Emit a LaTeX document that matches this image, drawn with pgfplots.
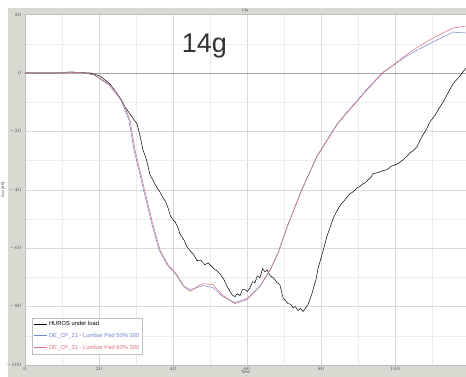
\documentclass[border=0pt]{standalone}
\usepackage{pgfplots}
\pgfplotsset{compat=1.18}
\usepackage{fontspec}
\setmainfont{Liberation Sans}
\definecolor{frame}{HTML}{D9D9D2}
\definecolor{bluel}{HTML}{6F86C8}
\definecolor{redl}{HTML}{D8707E}
\begin{document}
\begin{tikzpicture}[x=1pt,y=1pt]
\clip (0,0) rectangle (466,377);
\fill[white] (0,0) rectangle (466,377);
\fill[frame] (8,0) rectangle (466,369);
\node[font=\fontsize{4}{5}\selectfont, text=gray!70!black] at (245,366) {14g};
\begin{axis}[
  at={(25pt,12pt)}, anchor=south west,
  scale only axis, width=441pt, height=351pt,
  xmin=0, xmax=119.2, ymin=-100, ymax=20.2,
  axis background/.style={fill=white},
  axis line style={gray!50},
  xtick={0,20,40,60,80,100}, ytick={-100,-80,-60,-40,-20,0,20},
  minor xtick={10,30,50,70,90,110}, minor ytick={-90,-70,-50,-30,-10,10},
  grid=both,
  major grid style={gray!30, line width=0.5pt},
  minor grid style={gray!15, line width=0.5pt},
  tick style={draw=none},
  ticklabel style={font=\fontsize{4}{5}\selectfont, text=gray!60!black},
  xticklabel style={yshift=1pt},
  xlabel={Time}, ylabel={Sxx (dB)},
  label style={font=\fontsize{4}{5}\selectfont, text=gray!60!black},
  xlabel style={yshift=7pt},
  ylabel style={yshift=-6pt},
  legend style={at={(axis cs:1.9,-96.2)}, anchor=south west,
     font=\fontsize{5.8}{6.5}\selectfont, draw=gray!50, fill=white,
     inner sep=1.2pt, row sep=2.2pt, cells={anchor=west}},
  legend image code/.code={\draw[#1, line width=0.6pt] (0pt,0pt) -- (13pt,0pt);},
  clip=true,
]
\draw[gray!70, line width=0.6pt] (axis cs:0,0) -- (axis cs:119.2,0);
\addplot[black, line width=0.5pt] table {
x y
0 0
9.46 0
12.16 0.34
17.57 0
20.27 -1.03
22.97 -3.76
25.14 -7.52
27.03 -11.62
28.92 -15.04
30.27 -17.44
31.0 -21.0
31.89 -26.33
32.8 -29.5
33.78 -34.87
34.7 -37.0
35.68 -39.32
36.4 -40.6
37.30 -42.74
38.0 -44.0
38.65 -46.16
39.3 -48.9
40.0 -50.26
40.6 -51.0
41.35 -52.99
41.9 -55.2
42.43 -56.07
43.1 -57.5
43.78 -59.49
44.59 -60.86
45.5 -62.0
46.49 -64.28
47.4 -64.0
48.65 -65.65
49.5 -65.0
50.54 -66.33
51.2 -67.2
51.89 -67.70
52.8 -69.0
53.78 -70.78
54.6 -73.0
55.41 -74.88
56.0 -76.0
56.76 -76.59
57.4 -75.6
58.11 -76.24
58.8 -74.2
59.46 -74.19
60.1 -74.8
60.81 -73.51
61.5 -71.5
62.16 -71.80
62.8 -69.5
63.51 -70.09
64.2 -67.0
64.86 -68.04
65.5 -67.5
66.22 -69.41
67.2 -70.2
68.11 -71.80
68.9 -72.5
69.73 -76.93
70.4 -78.0
71.08 -78.98
71.8 -79.2
72.43 -80.35
73.1 -80.0
73.78 -81.37
74.5 -80.6
75.14 -81.71
75.8 -80.5
76.49 -79.32
77.0 -77.5
77.57 -75.56
78.1 -73.0
78.65 -70.78
79.2 -67.0
79.73 -64.62
80.3 -62.0
80.81 -59.83
81.6 -56.0
82.43 -52.99
83.4 -49.5
84.32 -47.18
85.4 -45.0
86.49 -43.42
87.2 -42.3
87.84 -41.37
88.8 -40.6
89.73 -39.32
90.5 -38.9
91.35 -37.95
92.0 -37.6
92.70 -36.58
93.4 -35.9
94.05 -34.53
95.0 -34.2
95.95 -33.85
96.9 -33.4
97.84 -33.16
98.9 -32.0
100.0 -31.45
101.0 -30.9
102.16 -29.75
103.1 -28.7
104.05 -27.35
105.0 -26.5
105.95 -25.30
106.8 -23.0
107.57 -21.20
108.5 -19.3
109.46 -16.75
110.8 -14.5
112.16 -11.62
113.1 -9.8
114.05 -7.52
114.9 -5.5
115.68 -3.76
116.6 -2.4
117.57 -1.03
118.4 0.4
119.2 1.71
};
\addplot[bluel, line width=0.5pt] table {
x y
0 0
9.46 0
12.16 0.34
16.22 0
18.65 -0.68
22.7 -4.10
25.95 -9.23
28.1 -16.07
29.46 -26.33
31.08 -34.87
32.7 -43.42
34.33 -51.97
36.22 -60.52
38.38 -65.65
40.81 -69.07
42.7 -72.8
44.59 -74.19
46.49 -73.51
48.11 -72.8
50.81 -73.5
53.51 -76.6
56.76 -78.6
60.0 -77.3
63.51 -72.9
66.22 -67.4
68.38 -61.5
70.81 -52.7
74.86 -39.7
78.92 -28.4
84.32 -17.5
87.03 -13.4
92.43 -5.5
96.76 0.3
104.05 6.5
110.27 10.6
115.68 14.0
119.2 13.7
};
\addplot[redl, line width=0.5pt] table {
x y
0 0
9.46 0
12.16 0.34
16.22 0
18.92 -0.68
22.97 -4.10
26.22 -9.23
28.38 -16.07
29.73 -26.33
31.35 -34.87
32.97 -43.42
34.6 -51.97
36.49 -60.52
38.65 -65.65
41.08 -69.07
42.97 -73.17
44.59 -74.88
46.49 -73.17
48.11 -72.14
50.81 -72.48
53.51 -76.24
56.76 -78.98
60.0 -77.61
63.51 -73.17
66.22 -67.70
68.38 -61.89
70.81 -53.0
74.86 -40.0
78.92 -28.72
84.32 -17.78
87.03 -13.68
92.43 -5.81
96.76 0
104.05 7.18
110.27 11.97
115.68 15.39
119.2 16.07
};
\legend{HUROS under load,
  \textcolor{bluel}{DE\_CP\_21 - Lumbar Pad 50\% 300},
  \textcolor{redl}{DE\_CP\_31 - Lumbar Pad 60\% 300}}
\node[font=\fontsize{27}{30}\selectfont, text=black!80] at (axis cs:48.5,9.2) {14g};
\end{axis}
\end{tikzpicture}
\end{document}
